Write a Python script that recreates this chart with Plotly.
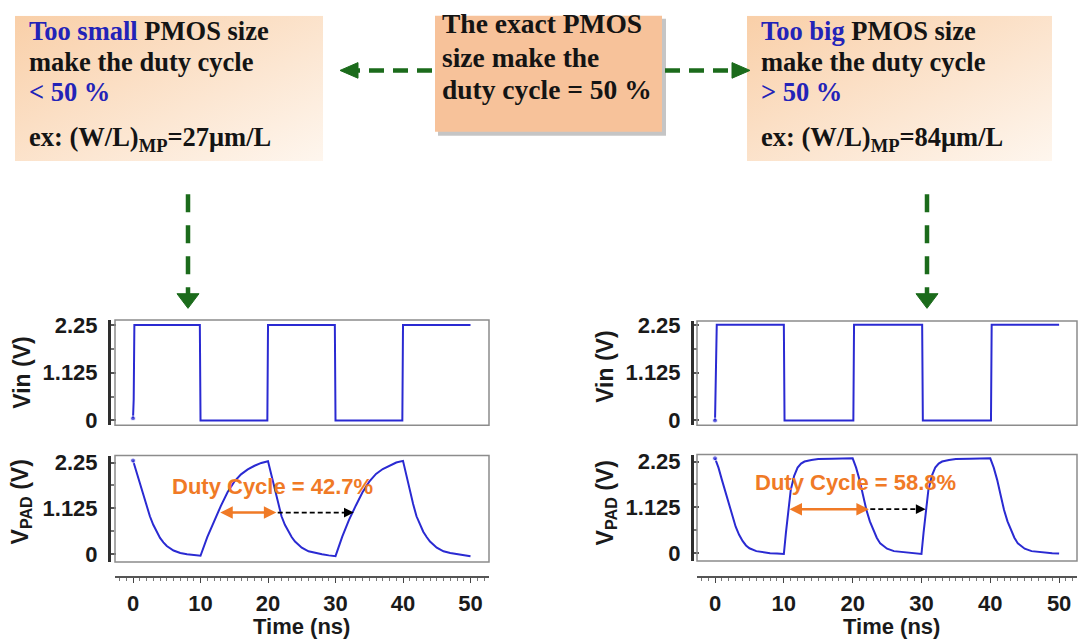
import base64
import plotly.graph_objects as go

W, H = 1078, 644


def fx(px):
    return px / W


def fy(py):
    return 1 - py / H


# ---------------- data ----------------
# Input square wave (ns, V) for both PMOS sizes
time_vin_small = [0, 0.1, 0.2, 9.9, 10.0, 19.9, 20.0, 29.9, 30.0, 39.9, 40.0, 50.0]
vin_small = [0.05, 0.5, 2.25, 2.25, 0.0, 0.0, 2.25, 2.25, 0.0, 0.0, 2.25, 2.25]
time_vin_big = [0, 0.1, 0.25, 10.0, 10.1, 20.1, 20.2, 30.1, 30.2, 40.1, 40.2, 50.0]
vin_big = [0.0, 1.4, 2.25, 2.25, 0.0, 0.0, 2.25, 2.25, 0.0, 0.0, 2.25, 2.25]

# Pad voltage, (W/L)MP = 27um/L
time_vpad_small = [0, 0.5, 1, 1.5, 2, 2.5, 3, 3.5, 4, 4.5, 5, 6, 7, 8, 9, 10,
                   11, 12, 13, 14, 15, 16, 17, 18, 19, 20,
                   20.5, 21, 21.5, 22, 22.5, 23, 23.5, 24, 25, 26, 27, 28, 29, 30,
                   31, 32, 33, 34, 35, 36, 37, 38, 39, 40,
                   40.5, 41, 41.5, 42, 42.5, 43, 43.5, 44, 45, 46, 47, 48, 49, 50]
vpad_small = [2.30, 2.02, 1.72, 1.44, 1.18, 0.93, 0.72, 0.54, 0.40, 0.29, 0.20, 0.09, 0.03, 0.0, -0.02, -0.04,
              0.42, 0.82, 1.18, 1.52, 1.78, 1.96, 2.08, 2.17, 2.24, 2.28,
              1.93, 1.57, 1.23, 0.93, 0.72, 0.55, 0.42, 0.31, 0.16, 0.07, 0.03, 0.0, -0.03, -0.05,
              0.43, 0.84, 1.19, 1.52, 1.78, 1.97, 2.09, 2.18, 2.25, 2.29,
              1.93, 1.57, 1.23, 0.93, 0.72, 0.55, 0.42, 0.31, 0.16, 0.07, 0.03, 0.0, -0.03, -0.05]

# Pad voltage, (W/L)MP = 84um/L
time_vpad_big = [0, 0.5, 1, 1.5, 2, 2.5, 3, 3.5, 4, 4.5, 5, 6, 7, 8, 9, 10,
                 10.3, 10.6, 11, 11.5, 12, 12.5, 13, 14, 15, 17, 20,
                 20.5, 21, 21.5, 22, 22.5, 23, 23.5, 24, 25, 26, 27, 28, 30,
                 30.3, 30.6, 31, 31.5, 32, 32.5, 33, 34, 35, 37, 40,
                 40.5, 41, 41.5, 42, 42.5, 43, 43.5, 44, 45, 46, 47, 48, 49, 50]
vpad_big = [2.33, 2.10, 1.80, 1.50, 1.20, 0.90, 0.65, 0.45, 0.30, 0.19, 0.12, 0.05, 0.02, 0.0, -0.01, -0.02,
            0.50, 1.00, 1.55, 1.90, 2.10, 2.20, 2.25, 2.29, 2.31, 2.32, 2.33,
            2.10, 1.80, 1.43, 1.06, 0.78, 0.56, 0.38, 0.24, 0.11, 0.05, 0.03, 0.01, -0.02,
            0.50, 1.00, 1.55, 1.90, 2.10, 2.20, 2.25, 2.29, 2.31, 2.32, 2.33,
            2.10, 1.80, 1.43, 1.06, 0.78, 0.56, 0.38, 0.24, 0.11, 0.05, 0.03, 0.01, 0.0, -0.01]

# Duty-cycle measurement
period_ns = 20
duty_small = 42.7
duty_big = 58.8
rise_cross_small = 12.7
rise_cross_big = 10.6
level_small = 1.02
level_big = 1.08

x_ticks = [0, 10, 20, 30, 40, 50]
y_ticks = [0, 1.125, 2.25]
y_ticktext = ["0", "1.125", "2.25"]

box_small = ["<span style='color:#2323b8'>Too small</span> PMOS size",
             "make the duty cycle",
             "<span style='color:#2323b8'>&lt; 50 %</span>",
             "ex: (W/L)<sub>MP</sub>=27μm/L"]
box_exact = ["The exact PMOS", "size make the", "duty cycle = 50 %"]
box_big = ["<span style='color:#2323b8'>Too big</span> PMOS size",
           "make the duty cycle",
           "<span style='color:#2323b8'>&gt; 50 %</span>",
           "ex: (W/L)<sub>MP</sub>=84μm/L"]

# ---------------- styling ----------------
BLUE = "#2a2ad2"
ORANGE = "#f07a26"
GREEN = "#1b6b1b"
SANS = "Liberation Sans, Arial, sans-serif"
SERIF = "Liberation Serif, Times New Roman, serif"
TICKFONT = dict(family=SANS, size=22, color="#1a1a1a", weight="bold")

fig = go.Figure()


def add_wave(t, v, xa, ya):
    fig.add_trace(go.Scatter(x=t, y=v, xaxis=xa, yaxis=ya, mode="lines+markers",
                             marker=dict(size=[5] + [0] * (len(t) - 1), color=BLUE),
                             line=dict(color=BLUE, width=2), showlegend=False,
                             hoverinfo="skip"))


add_wave(time_vin_small, vin_small, "x", "y")
add_wave(time_vpad_small, vpad_small, "x2", "y2")
add_wave(time_vin_big, vin_big, "x3", "y3")
add_wave(time_vpad_big, vpad_big, "x4", "y4")

# panel geometry (pixels)
left_x = (115, 489)
right_x = (697, 1077)
vin_y_left = (320, 428)
vin_y_right = (321, 428)
vpad_y_left = (459, 568)
vpad_y_right = (458, 567)
xr_left = [-2.67, 52.74]
xr_right = [-2.62, 52.6]
yr_vin_left = [-0.115, 2.365]
yr_vin_right = [-0.115, 2.34]
yr_vpad = [-0.19, 2.42]


def xdom(p):
    return [fx(p[0]), fx(p[1])]


def ydom(p):
    return [fy(p[1]), fy(p[0])]


def yaxis_cfg(dom, rng, pos):
    return dict(domain=ydom(dom), range=rng, anchor="free", position=fx(pos),
                showline=True, linewidth=3, linecolor="#2e2e2e",
                tickmode="array", tickvals=y_ticks, ticktext=y_ticktext,
                ticks="inside", ticklen=5, tickwidth=1.5, tickcolor="#555",
                minor=dict(tickmode="linear", tick0=0, dtick=0.5625, ticks="inside",
                           ticklen=3, tickcolor="#777"),
                ticklabelstandoff=6,
                tickfont=TICKFONT, showgrid=False, zeroline=False, fixedrange=True)


def time_axis_cfg(dom, rng, ypos):
    return dict(domain=xdom(dom), range=rng, anchor="free", position=fy(ypos),
                showline=True, linewidth=1.5, linecolor="#555",
                tickmode="linear", tick0=0, dtick=10,
                ticks="outside", ticklen=5, tickwidth=1.2, tickcolor="#444",
                minor=dict(tickmode="linear", tick0=0, dtick=1, ticks="outside",
                           ticklen=3, tickcolor="#777"),
                ticklabelstandoff=1,
                tickfont=TICKFONT, showgrid=False, zeroline=False, fixedrange=True)


hidden_x = dict(visible=False, showgrid=False, zeroline=False, fixedrange=True)

fig.update_layout(
    width=W, height=H,
    margin=dict(l=0, r=0, t=0, b=0),
    paper_bgcolor="white", plot_bgcolor="white",
    xaxis=dict(domain=xdom(left_x), range=xr_left, anchor="y", **hidden_x),
    yaxis=yaxis_cfg(vin_y_left, yr_vin_left, 109),
    xaxis2=time_axis_cfg(left_x, xr_left, 584),
    yaxis2=yaxis_cfg(vpad_y_left, yr_vpad, 109),
    xaxis3=dict(domain=xdom(right_x), range=xr_right, anchor="y3", **hidden_x),
    yaxis3=yaxis_cfg(vin_y_right, yr_vin_right, 692),
    xaxis4=time_axis_cfg(right_x, xr_right, 584),
    yaxis4=yaxis_cfg(vpad_y_right, yr_vpad, 692),
)

shapes = []
annotations = []
images = []

# plot frames
for xa, ya in (("x", "y"), ("x2", "y2"), ("x3", "y3"), ("x4", "y4")):
    shapes.append(dict(type="rect", xref=f"{xa} domain", yref=f"{ya} domain",
                       x0=0, x1=1, y0=0, y1=1, line=dict(color="#8c8c8c", width=1.5),
                       layer="above"))

# duty-cycle arrows
for xa, ya, cross, duty, level, label, lx, ly in (
        ("x2", "y2", rise_cross_small, duty_small, level_small, "Duty Cycle = 42.7%", 20.6, 1.66),
        ("x4", "y4", rise_cross_big, duty_big, level_big, "Duty Cycle = 58.8%", 20.4, 1.73)):
    high_end = cross + duty / 100 * period_ns
    next_cross = cross + period_ns
    annotations.append(dict(x=high_end, y=level, ax=cross, ay=level, xref=xa, yref=ya,
                            axref=xa, ayref=ya, text="", showarrow=True,
                            arrowhead=2, startarrowhead=2, arrowside="end+start",
                            arrowsize=1, startarrowsize=1, arrowwidth=2.5,
                            arrowcolor=ORANGE))
    shapes.append(dict(type="line", xref=xa, yref=ya, x0=high_end + 0.2, x1=next_cross - 0.9,
                       y0=level, y1=level, line=dict(color="black", width=1.8, dash="5px,3px")))
    annotations.append(dict(x=next_cross, y=level, ax=next_cross - 1.2, ay=level, xref=xa, yref=ya,
                            axref=xa, ayref=ya, text="", showarrow=True, arrowhead=2,
                            arrowsize=1.3, arrowwidth=1.5, arrowcolor="black"))
    annotations.append(dict(x=lx, y=ly, xref=xa, yref=ya, text=f"<b>{label}</b>",
                            showarrow=False, xanchor="center", yanchor="middle",
                            font=dict(family=SANS, size=22, color=ORANGE)))

# axis titles
for x, y, txt in ((22, 374, "<b>Vin (V)</b>"), (21, 507, "<b>V<sub>PAD</sub> (V)</b>"),
                  (605, 368, "<b>Vin (V)</b>"), (606, 508, "<b>V<sub>PAD</sub> (V)</b>")):
    annotations.append(dict(x=fx(x), y=fy(y), xref="paper", yref="paper", text=txt,
                            textangle=-90, showarrow=False, xanchor="center", yanchor="middle",
                            font=dict(family=SANS, size=23, color="#1a1a1a")))
for x, y in ((301, 634), (891, 634)):
    annotations.append(dict(x=fx(x), y=fy(y), xref="paper", yref="paper",
                            text="<b>Time (ns)</b>", showarrow=False,
                            xanchor="center", yanchor="middle",
                            font=dict(family=SANS, size=22, color="#1a1a1a")))


# text boxes
def gradient_uri(c1, c2):
    svg = ('<svg xmlns="http://www.w3.org/2000/svg" width="100" height="100" '
           'viewBox="0 0 100 100" preserveAspectRatio="none"><defs>'
           '<linearGradient id="g" x1="0" y1="0" x2="1" y2="1">'
           f'<stop offset="0" stop-color="{c1}"/><stop offset="1" stop-color="{c2}"/>'
           '</linearGradient></defs><rect width="100" height="100" fill="url(#g)"/></svg>')
    return "data:image/svg+xml;base64," + base64.b64encode(svg.encode()).decode()


for x0, x1 in ((15, 323), (747, 1052)):
    images.append(dict(source=gradient_uri("#f9cfa8", "#fef6ee"), xref="paper", yref="paper",
                       x=fx(x0), y=fy(8), sizex=(x1 - x0) / W, sizey=(157 - 8) / H,
                       xanchor="left", yanchor="top", sizing="stretch", layer="below"))

shapes.append(dict(type="rect", xref="paper", yref="paper", x0=fx(438), x1=fx(666),
                   y0=fy(131), y1=fy(11), fillcolor="rgba(90,90,90,0.35)", line=dict(width=0),
                   layer="below"))
shapes.append(dict(type="rect", xref="paper", yref="paper", x0=fx(435), x1=fx(662),
                   y0=fy(127), y1=fy(8), fillcolor="#f7c29a", line=dict(width=0), layer="below"))

for lines, x, ys, size in ((box_small, 27, (24, 55, 86, 134), 26.5),
                           (box_exact, 440, (16, 51, 84), 27.5),
                           (box_big, 759, (24, 55, 86, 134), 26.5)):
    for txt, y in zip(lines, ys):
        annotations.append(dict(x=fx(x), y=fy(y), xref="paper", yref="paper",
                                text=f"<b>{txt}</b>", showarrow=False,
                                xanchor="left", yanchor="middle",
                                font=dict(family=SERIF, size=size, color="#141414")))


# green dashed connector arrows
def green_line(x0, y0, x1, y1, dash):
    shapes.append(dict(type="line", xref="paper", yref="paper", x0=fx(x0), y0=fy(y0),
                       x1=fx(x1), y1=fy(y1), line=dict(color=GREEN, width=4.5, dash=dash)))


def green_head(tx, ty, direction, head_len, head_half):
    if direction == "left":
        pts = [(tx, ty), (tx + head_len, ty - head_half), (tx + head_len, ty + head_half)]
    elif direction == "right":
        pts = [(tx, ty), (tx - head_len, ty - head_half), (tx - head_len, ty + head_half)]
    else:
        pts = [(tx, ty), (tx - head_half, ty - head_len), (tx + head_half, ty - head_len)]
    path = "M " + " L ".join(f"{fx(px):.5f},{fy(py):.5f}" for px, py in pts) + " Z"
    shapes.append(dict(type="path", xref="paper", yref="paper", path=path,
                       fillcolor=GREEN, line=dict(color=GREEN, width=1)))


green_line(432, 64, 358, 64, "15px,9px")
green_head(340, 64, "left", 18, 8)
green_line(665, 64, 732, 64, "15px,9px")
green_head(750, 64, "right", 18, 8)
green_line(188, 191, 188, 294, "18px,13px")
green_head(188, 308, "down", 15, 11)
green_line(927, 191, 927, 294, "18px,13px")
green_head(927, 308, "down", 15, 11)

fig.update_layout(shapes=shapes, annotations=annotations, images=images)

fig.write_html("out.html")
